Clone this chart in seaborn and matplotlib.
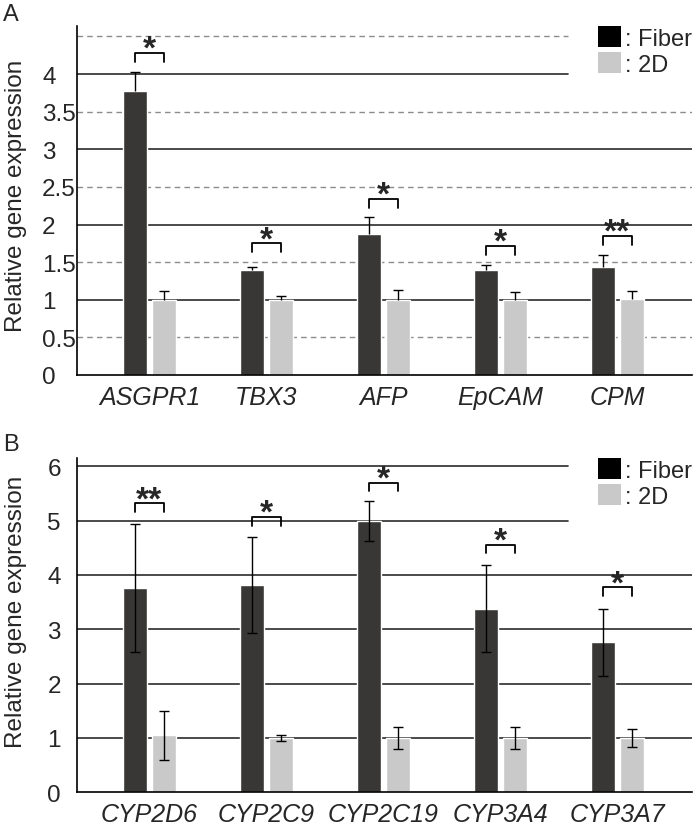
import numpy as np
import pandas as pd
import matplotlib
matplotlib.use("Agg")
import matplotlib.pyplot as plt
from matplotlib.patches import Patch
import seaborn as sns

# ==============================
# DATA
# ==============================

genes_a = ["ASGPR1", "TBX3", "AFP", "EpCAM", "CPM"]
fiber_a = [3.78, 1.40, 1.87, 1.39, 1.43]
fiber_a_err = [0.25, 0.04, 0.23, 0.07, 0.16]
twod_a = [1.0, 1.0, 1.0, 1.0, 1.01]
twod_a_err = [0.11, 0.05, 0.13, 0.10, 0.11]
sig_a = ["*", "*", "*", "*", "**"]
bracket_a = [4.28, 1.75, 2.34, 1.72, 1.85]

genes_b = ["CYP2D6", "CYP2C9", "CYP2C19", "CYP3A4", "CYP3A7"]
fiber_b = [3.76, 3.81, 4.99, 3.38, 2.76]
fiber_b_err = [1.18, 0.88, 0.37, 0.80, 0.62]
twod_b = [1.05, 1.0, 1.0, 1.0, 1.0]
twod_b_err = [0.45, 0.05, 0.20, 0.20, 0.17]
sig_b = ["**", "*", "*", "*", "*"]
bracket_b = [5.32, 5.07, 5.70, 4.56, 3.77]

conditions = ["Fiber", "2D"]
colors = ["#383736", "#c9c9c9"]
legend_colors = ["#000000", "#c9c9c9"]

# ==============================
# STYLE
# ==============================

sns.set_theme(style="white")
plt.rcParams["font.family"] = ["Liberation Sans", "DejaVu Sans"]

fig = plt.figure(figsize=(6.99, 8.29), dpi=100)

ax_a = fig.add_axes([0.110, 0.5465, 0.880, 0.421])
ax_b = fig.add_axes([0.110, 0.0431, 0.880, 0.403])


def draw_panel(ax, genes, fiber, fiber_err, twod, twod_err, sig, brackets,
               ymax, solid, dashed, short_lines, yticks, one_sided, drop,
               tick_pad, tick_ha, label_y):

    df = pd.DataFrame({
        "gene": genes * 2,
        "value": fiber + twod,
        "cond": [conditions[0]] * len(genes) + [conditions[1]] * len(genes),
    })

    # grid lines (drawn under the bars)
    for v in solid:
        xmax = 0.798 if v in short_lines else 1.0
        ax.axhline(v, xmin=0, xmax=xmax, color="#2b2b2b", lw=1.2, zorder=0)
    for v in dashed:
        xmax = 0.798 if v in short_lines else 1.0
        ax.axhline(v, xmin=0, xmax=xmax, color="#8c8c8c", lw=1.0,
                   ls=(0, (4, 3)), zorder=0)

    sns.barplot(
        data=df, x="gene", y="value", hue="cond",
        hue_order=conditions, palette=colors,
        width=0.5, gap=0.18, errorbar=None,
        saturation=1, legend=False, ax=ax, zorder=2,
    )

    bars = ax.patches
    n = len(genes)
    xs_f = [b.get_x() + b.get_width() / 2 for b in bars[:n]]
    xs_2 = [b.get_x() + b.get_width() / 2 for b in bars[n:2 * n]]

    for xs, vals, errs in [(xs_f, fiber, fiber_err), (xs_2, twod, twod_err)]:
        if one_sided:
            yerr = [np.zeros(n), errs]
        else:
            yerr = errs
        eb = ax.errorbar(xs, vals, yerr=yerr, fmt="none", ecolor="black",
                         elinewidth=1.0, capsize=3.5, capthick=1.0, zorder=3)
        if one_sided:
            # only the upper cap is shown
            eb[1][0].set_visible(False)

    # significance brackets
    for x1, x2, top, s in zip(xs_f, xs_2, brackets, sig):
        ax.plot([x1, x1, x2, x2], [top - drop, top, top, top - drop],
                color="black", lw=1.3, zorder=3)
        ax.annotate(s, xy=((x1 + x2) / 2, top), xytext=(0, -3.5),
                    textcoords="offset points", ha="center", va="baseline",
                    fontsize=24, fontweight="bold")

    ax.set_xlim(-0.62, n - 1 + 0.64)
    ax.set_ylim(0, ymax)
    ax.set_yticks(yticks)
    ax.set_yticklabels([f"{t:g}" for t in yticks], ha=tick_ha)
    ax.tick_params(axis="y", length=0, pad=tick_pad, labelsize=17.5)
    ax.tick_params(axis="x", length=0, pad=7, labelsize=18)
    for lab in ax.get_xticklabels():
        lab.set_fontstyle("italic")

    ax.set_xlabel("")
    ax.set_ylabel("Relative gene expression", fontsize=17.5)
    ax.yaxis.set_label_coords(-0.081, label_y)

    for side in ["top", "right"]:
        ax.spines[side].set_visible(False)
    for side in ["left", "bottom"]:
        ax.spines[side].set_color("black")
        ax.spines[side].set_linewidth(1.2)

    handles = [Patch(facecolor=c, edgecolor="none") for c in legend_colors]
    ax.legend(handles, [": " + c for c in conditions],
              loc="upper right", bbox_to_anchor=(1.0, 1.0),
              frameon=False, fontsize=17, handlelength=1.0,
              handleheight=1.0, handletextpad=0.15, labelspacing=0.1,
              borderpad=0, borderaxespad=0)


draw_panel(ax_a, genes_a, fiber_a, fiber_a_err, twod_a, twod_a_err, sig_a,
           bracket_a, ymax=4.64,
           solid=[1, 2, 3, 4], dashed=[0.5, 1.5, 2.5, 3.5, 4.5],
           short_lines=[4, 4.5],
           yticks=[0, 0.5, 1, 1.5, 2, 2.5, 3, 3.5, 4],
           one_sided=True, drop=0.12, tick_pad=25, tick_ha="left",
           label_y=0.516)

draw_panel(ax_b, genes_b, fiber_b, fiber_b_err, twod_b, twod_b_err, sig_b,
           bracket_b, ymax=6.15,
           solid=[1, 2, 3, 4, 5, 6], dashed=[],
           short_lines=[5, 6],
           yticks=[0, 1, 2, 3, 4, 5, 6],
           one_sided=False, drop=0.16, tick_pad=11.5, tick_ha="right",
           label_y=0.543)

fig.text(0.004, 0.995, "A", fontsize=17, va="top", ha="left")
fig.text(0.004, 0.477, "B", fontsize=17, va="top", ha="left")

fig.savefig("out.png", dpi=100)
